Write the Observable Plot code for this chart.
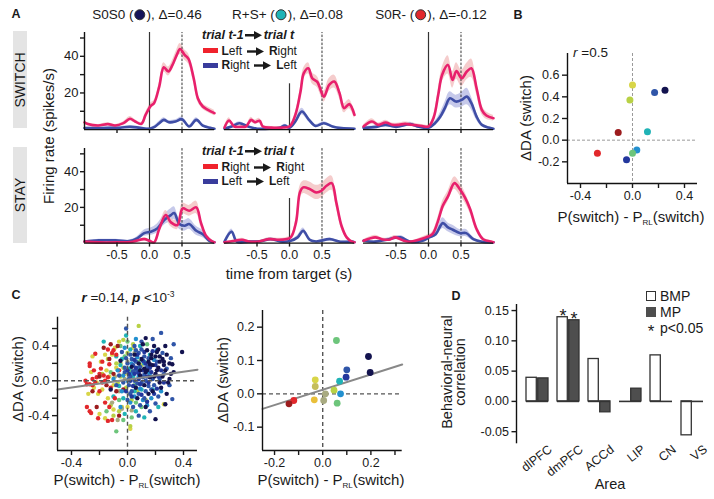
<!DOCTYPE html>
<html><head><meta charset="utf-8">
<script src="https://cdn.jsdelivr.net/npm/d3@7"></script>
<script src="https://cdn.jsdelivr.net/npm/@observablehq/plot@0.6"></script>
<style>
body{margin:0;background:#fff;}
#root{position:relative;width:714px;height:499px;overflow:hidden;background:#fff;font-family:"Liberation Sans",Arial,Helvetica,sans-serif;color:#1a1a1a;}
.lb{position:absolute;white-space:nowrap;line-height:1;}
.cd{display:inline-block;width:11px;height:11px;border-radius:50%;border:1px solid #333;box-sizing:border-box;vertical-align:-1px;margin:0 1px;}
sub.rl{font-size:8px;vertical-align:-3px;}
sup.e{font-size:8.5px;vertical-align:5px;}
</style></head><body><div id="root"></div>
<script>
// ---------------- DATA ----------------
// Panel A: firing-rate curves, [time (s), rate (spikes/s), sem]
const sw1Pink = [[-1.0,3.9,0.8],[-0.95,3,0.7],[-0.79,2.2,0.6],[-0.64,3,0.7],[-0.53,2.2,0.6],[-0.40,3.5,0.8],[-0.30,5.9,1.2],[-0.22,4.4,1],[-0.125,3.1,0.8],[-0.06,8,1.2],[0.02,13,1.5],[0.07,14.4,1.5],[0.15,23.5,2],[0.22,34,2.5],[0.29,31.7,2.5],[0.35,35,2.5],[0.42,40.8,2.8],[0.47,44,3],[0.54,40.8,2.8],[0.60,38.6,2.8],[0.68,28,2.5],[0.745,17,2],[0.82,12.6,1.5],[0.90,10.8,1.5],[1.0,9,1.5]];
const sw1Blue = [[-1.0,0.8,0.5],[-0.8,0.8,0.5],[-0.6,1,0.6],[-0.45,1,0.6],[-0.3,1.5,0.7],[-0.15,1,0.6],[0,0.5,0.5],[0.08,1.5,0.7],[0.15,3.5,1],[0.22,5.3,1.2],[0.3,4,1],[0.4,4.4,1],[0.5,5.7,1.2],[0.61,1.7,0.8],[0.72,5.3,1.2],[0.82,2.2,0.8],[0.93,1,0.5],[1.0,0.5,0.4]];
const sw2Pink = [[-1.0,1.1,0.8],[-0.93,5,1.5],[-0.85,1.7,0.8],[-0.745,1.5,0.8],[-0.67,1.7,0.8],[-0.59,5.3,1.5],[-0.53,4,1.2],[-0.46,4.8,1.3],[-0.41,1.7,0.8],[-0.28,1.1,0.6],[-0.12,1.1,0.6],[0,1.7,0.8],[0.09,8,1.5],[0.17,20.8,2.5],[0.22,30.8,3],[0.29,33.5,3],[0.35,28,3],[0.43,25.9,3],[0.46,23.5,3],[0.53,18,3],[0.61,24.4,3.5],[0.69,26.2,3.5],[0.77,19.9,3],[0.84,11.7,2.5],[0.92,13.9,2.5],[1.0,8,2]];
const sw2Blue = [[-1.0,0.5,0.4],[-0.9,1.5,0.6],[-0.77,3.5,0.8],[-0.64,1.7,0.6],[-0.5,0.5,0.4],[-0.3,0.5,0.4],[-0.15,1,0.5],[-0.07,2.2,0.7],[0,1,0.5],[0.09,4.4,1],[0.19,9.9,1.8],[0.3,5.3,1.2],[0.4,2,0.8],[0.53,3.5,0.8],[0.66,1.7,0.6],[0.8,0.8,0.4],[1.0,0.5,0.4]];
const sw3Pink = [[-1.0,1.7,0.8],[-0.87,4.4,1.5],[-0.77,2.6,1],[-0.66,3.9,1.2],[-0.56,2.6,1],[-0.46,2.6,1],[-0.36,3.1,1],[-0.26,2.6,1],[-0.10,2,0.8],[0,1.7,0.8],[0.08,6.6,1.5],[0.15,19,3],[0.21,29.9,4],[0.30,35.3,5],[0.37,27.1,4.5],[0.43,32,4.5],[0.51,28,4.5],[0.59,31.7,4.5],[0.66,33.5,5],[0.74,22.6,3.5],[0.82,10.8,2.5],[0.89,7.7,2],[1.0,6.2,1.5]];
const sw3Blue = [[-1.0,1,0.6],[-0.8,1.5,0.7],[-0.66,2.6,1],[-0.5,1.5,0.8],[-0.28,3,1],[-0.15,1.5,0.7],[0,1,0.6],[0.1,3.5,1],[0.18,7,2],[0.255,12,3],[0.33,17.1,3.5],[0.42,15.3,3.5],[0.51,16.2,4],[0.59,18,4.5],[0.66,14.4,3.5],[0.74,7.1,2],[0.82,2.6,1],[0.92,1.1,0.6],[1.0,0.5,0.4]];
const st1Pink = [[-1.0,0.8,0.5],[-0.78,0.4,0.3],[-0.52,0.4,0.3],[-0.26,0.8,0.5],[-0.08,2.2,0.8],[0,1.3,0.6],[0.07,0.4,0.4],[0.15,7.9,1.5],[0.25,15.7,2.5],[0.33,11.6,2.5],[0.43,10.1,2.5],[0.51,19.4,3],[0.61,18.1,3],[0.72,20,3.5],[0.79,11.6,2.5],[0.87,4.1,1],[0.97,0.8,0.5],[1.0,0.5,0.4]];
const st1Blue = [[-1.0,0.8,0.4],[-0.78,1.5,0.6],[-0.52,1.5,0.6],[-0.31,1.1,0.6],[-0.19,2.6,1],[-0.08,5.6,1.8],[0.02,6.4,2],[0.12,8.2,2.5],[0.23,13.1,3],[0.33,15.7,3.5],[0.38,16.8,3.5],[0.46,10.7,3],[0.54,9.7,3],[0.61,10.7,3],[0.72,6.9,2.5],[0.82,5,2],[0.92,1.3,0.8],[1.0,0.4,0.3]];
const st2Pink = [[-1.0,0.4,0.4],[-0.84,1.3,0.6],[-0.73,1.9,0.8],[-0.63,0.9,0.5],[-0.47,0.9,0.5],[-0.32,2.2,0.8],[-0.16,1.9,0.8],[-0.06,2.2,0.8],[0.02,3.2,1],[0.1,11.6,2],[0.16,28.4,3.5],[0.21,31.2,3.5],[0.31,30.3,4],[0.41,28.4,4],[0.49,29.3,4],[0.57,32.1,4],[0.65,33.6,4],[0.72,22.8,3],[0.80,9.7,2],[0.88,3.2,1],[0.96,0.8,0.5],[1.0,0.5,0.4]];
const st2Blue = [[-1.0,0.8,0.5],[-0.89,6.4,1.5],[-0.81,0.8,0.5],[-0.63,0.8,0.4],[-0.45,1,0.5],[-0.29,2.2,0.8],[-0.11,0.8,0.4],[0.02,1.3,0.5],[0.125,3.2,1],[0.21,6.9,1.5],[0.31,1.9,0.8],[0.41,0.9,0.5],[0.62,2.2,0.7],[0.78,0.8,0.4],[0.96,0.8,0.4],[1.0,0.5,0.4]];
const st3Pink = [[-1.0,1.3,0.6],[-0.82,3.2,1.2],[-0.72,2.2,0.8],[-0.61,1.9,0.8],[-0.51,3.2,1],[-0.38,1.3,0.6],[-0.28,0.8,0.5],[-0.15,1.9,0.7],[-0.04,3.2,1],[0.06,5,1.2],[0.14,11.6,2],[0.22,20.9,3],[0.30,26.2,3],[0.40,33.6,3.5],[0.48,30.3,3.5],[0.56,25.6,3],[0.64,19.1,2.5],[0.74,7.9,1.5],[0.84,2.2,0.8],[0.97,0.8,0.5],[1.0,0.5,0.4]];
const st3Blue = [[-1.0,1.3,0.6],[-0.82,0.8,0.5],[-0.61,2.2,0.8],[-0.43,3.2,1],[-0.28,0.8,0.5],[-0.09,1.3,0.6],[0.01,3.2,1],[0.11,5,1.5],[0.22,11.2,3],[0.30,8.8,2.5],[0.375,7.5,2.5],[0.48,5.6,2],[0.58,5.6,2],[0.69,2.2,1],[0.82,0.8,0.5],[0.97,0.4,0.3],[1.0,0.4,0.3]];
const timeTicks = [-0.5, 0, 0.5];
const rateTicks = [10, 20, 30, 40, 50];
const rateLabels = [20, 40];

// colour categories
const catNames = ["darkred","red","orange","yellow","khaki","yellowgreen","olive","green","cyan","lightblue","blue","darkblue","navy"];
const catColors = ["#9c1c1e","#e2282c","#e9bf3a","#d8d548","#c4bd5c","#b8d145","#a8aa80","#6dc57b","#20b3b6","#2390cf","#2f55a8","#23379d","#13134f"];

// Panel B
const bX = [0.00,-0.02,0.17,0.25,-0.11,0.115,-0.27,0.033,0.00,-0.046];
const bY = [0.51,0.37,0.44,0.46,0.07,0.077,-0.12,-0.09,-0.12,-0.18];
const bCat = ["yellow","yellowgreen","blue","navy","darkred","cyan","red","lightblue","green","darkblue"];

// Panel C left: neurons [x, y] by colour
const clYellow = [[0.04,0.38],[-0.25,0.28],[-0.19,0.22],[-0.16,0.30],[-0.13,0.05],[-0.22,-0.02],[-0.21,-0.15],[-0.18,-0.10],[-0.24,-0.08],[-0.16,-0.43],[-0.10,-0.33],[-0.04,-0.30],[-0.09,0.38],[-0.08,0.15],[-0.14,-0.20],[0.02,-0.55],[0.26,-0.27],[-0.20,-0.38],[-0.11,0.30],[-0.28,-0.15],[-0.06,0.45],[-0.15,0.12],[0.00,-0.30],[-0.26,0.10],[-0.05,0.20],[-0.02,0.08],[-0.10,-0.05]];
const clYellowGreen = [[0.08,0.63],[-0.03,0.47],[0.04,0.42],[-0.08,0.20],[-0.01,-0.08],[-0.12,-0.28],[0.02,-0.52],[-0.05,0.05],[0.07,-0.12],[-0.14,0.25],[0.10,0.18],[-0.10,-0.40],[0.00,0.32],[-0.06,-0.35],[0.13,-0.22],[-0.18,0.08],[-0.03,0.15],[0.03,-0.22],[-0.07,-0.02]];
const clOlive = [[-0.07,-0.45],[-0.04,-0.32],[0.01,-0.15],[-0.09,0.05],[0.00,0.22],[-0.06,-0.12],[0.03,-0.34],[-0.11,-0.25],[0.05,0.32],[-0.02,0.02]];
const clGreen = [[-0.08,-0.58],[0.03,-0.42],[-0.05,0.40],[0.00,0.45],[-0.12,0.10],[0.06,-0.25],[0.02,0.12],[-0.06,-0.22],[-0.02,0.28],[0.10,-0.30],[0.05,-0.05],[-0.15,-0.35],[0.14,0.42],[-0.03,-0.45],[0.08,0.22]];
const clCyan = [[-0.17,0.45],[-0.01,0.52],[0.02,0.36],[-0.05,0.18],[0.08,0.15],[-0.10,-0.18],[0.06,-0.35],[0.10,-0.10],[-0.03,-0.20],[0.04,0.05],[0.16,0.30],[-0.08,0.28],[0.12,-0.42],[0.22,-0.30],[-0.02,-0.38],[0.09,0.40],[0.18,-0.10],[-0.06,-0.06],[0.01,0.14],[-0.04,0.25],[0.05,-0.12],[0.12,0.22]];
const clRed = [[-0.23,0.31],[-0.27,0.20],[-0.27,0.17],[-0.18,0.22],[-0.13,0.19],[-0.10,0.35],[-0.08,0.30],[-0.11,0.32],[-0.14,0.36],[-0.29,-0.04],[-0.27,-0.04],[-0.25,-0.05],[-0.23,-0.02],[-0.18,-0.02],[-0.16,0.00],[-0.14,0.04],[-0.20,0.08],[-0.22,0.04],[-0.29,-0.30],[-0.27,-0.35],[-0.26,-0.37],[-0.21,-0.43],[-0.14,-0.46],[-0.11,-0.45],[-0.13,-0.30],[-0.09,-0.20],[-0.12,-0.08],[-0.06,0.12],[-0.19,0.14],[-0.24,0.12],[-0.30,0.00],[-0.16,-0.25],[-0.20,-0.12],[-0.25,0.02],[-0.17,0.06]];
const clDarkRed = [[-0.17,0.38],[-0.12,0.42],[-0.20,0.05],[-0.15,-0.05],[-0.10,0.08],[-0.08,-0.12],[-0.25,-0.12],[-0.13,0.25],[-0.06,-0.40],[-0.22,-0.30],[-0.07,0.40],[-0.03,-0.10]];
const clLightBlue = [[0.06,0.48],[-0.02,0.38],[0.12,0.20],[0.03,0.08],[0.09,-0.09],[-0.04,-0.12],[0.15,0.10],[0.00,0.00],[-0.07,0.12],[0.07,0.27],[0.17,-0.20],[0.02,-0.25],[-0.05,-0.30],[0.21,0.35],[0.14,-0.28],[0.24,-0.12],[0.05,-0.18],[-0.10,0.02],[0.19,0.24],[0.03,0.20],[0.08,0.05],[-0.03,0.06],[0.11,-0.22],[0.16,0.06]];
const clBlue = [[-0.01,0.60],[0.18,0.48],[0.24,0.55],[0.33,0.42],[0.10,0.45],[0.05,0.40],[0.02,0.30],[0.08,0.32],[0.12,0.28],[0.00,0.20],[0.04,0.18],[0.07,0.10],[0.02,0.05],[-0.02,0.10],[0.05,0.00],[0.10,-0.02],[0.15,-0.06],[0.01,-0.05],[0.03,-0.12],[0.08,-0.15],[0.12,-0.20],[-0.03,-0.02],[0.06,0.22],[0.14,0.16],[0.18,0.02],[0.22,-0.18],[0.30,-0.05],[0.32,-0.21],[0.20,-0.26],[0.08,-0.40],[0.26,0.08],[0.31,0.26],[0.09,-0.28],[0.00,-0.22],[-0.04,0.33],[-0.06,0.06],[0.16,-0.35],[0.04,-0.30],[0.25,0.32],[0.11,0.04],[0.13,-0.12],[-0.02,0.15],[0.03,0.25],[0.19,-0.05],[0.06,0.13],[0.23,0.02],[-0.08,-0.05],[0.10,0.36],[0.28,0.14],[0.01,0.02],[0.04,0.11],[0.07,-0.03],[0.12,0.07],[0.15,0.26],[0.09,0.16],[0.02,-0.15],[0.17,-0.10],[0.06,0.35],[0.21,0.22],[-0.01,0.26],[0.13,0.00]];
const clDarkBlue = [[0.02,0.00],[0.05,0.08],[0.08,0.02],[0.11,0.12],[0.14,0.05],[0.17,0.10],[0.04,-0.06],[0.09,-0.04],[0.13,0.20],[0.16,0.15],[0.06,0.15],[0.01,0.08],[0.10,-0.16],[0.07,0.30],[0.20,0.18],[0.24,0.12],[0.19,-0.15],[0.03,-0.18],[0.12,0.33],[0.15,-0.02],[-0.01,-0.12],[0.18,0.34],[0.22,0.05],[0.08,0.09],[0.05,0.24],[0.26,-0.02],[0.14,-0.24],[0.00,0.12],[0.11,0.23],[0.21,-0.09]];
const clNavy = [[0.13,0.49],[0.27,0.40],[0.39,0.33],[0.22,0.36],[0.17,0.30],[0.20,0.28],[0.25,0.25],[0.30,0.20],[0.32,0.19],[0.15,0.22],[0.18,0.18],[0.22,0.15],[0.27,0.12],[0.12,0.14],[0.10,0.25],[0.20,0.08],[0.25,0.05],[0.30,0.02],[0.29,-0.02],[0.16,0.04],[0.13,0.10],[0.08,0.20],[0.23,0.22],[0.28,0.30],[0.19,0.40],[0.14,0.35],[0.05,0.30],[0.24,-0.08],[0.18,-0.12],[0.12,-0.05],[0.27,-0.27],[0.20,-0.44],[0.13,-0.30],[0.07,-0.20],[0.21,0.12],[0.26,0.18],[0.09,0.06],[0.17,0.26],[0.33,0.10],[0.11,0.42],[0.03,0.16],[0.28,-0.15],[0.06,-0.08],[-0.05,0.23],[-0.12,-0.10],[0.14,0.12],[0.19,0.05],[0.23,0.28],[0.16,0.19],[0.21,0.33],[0.09,0.12],[0.26,0.22],[0.31,0.08],[0.15,-0.15],[0.23,-0.02]];
const regLeftX = [-0.5, 0.5];
const regLeftY = [-0.10, 0.127];

// Panel C right
const crX = [0.057,0.19,0.197,0.10,0.097,0.07,0.074,0.047,0.06,-0.031,-0.031,-0.035,0.011,0.004,-0.12,-0.14];
const crY = [0.16,0.112,0.064,0.072,0.05,0.038,0.0,0.011,-0.028,0.042,0.022,-0.018,0.0,-0.02,-0.02,-0.03];
const crCat = ["green","navy","navy","blue","darkblue","cyan","lightblue","yellowgreen","green","yellow","khaki","orange","olive","olive","red","darkred"];
const regRightX = [-0.25, 0.33];
const regRightY = [-0.045, 0.088];

// Panel D
const dAreas = ["dlPFC","dmPFC","ACCd","LIP","CN","VS"];
const dBMP = [0.039, 0.139, 0.070, 0.000, 0.076, -0.056];
const dMP = [0.038, 0.134, -0.018, 0.021, 0.000, 0.000];
const dSigBMP = ["dmPFC"];
const dSigMP = ["dmPFC"];

// ---------------- HELPERS ----------------
const FONT = '"Liberation Sans", Arial, Helvetica, sans-serif';
const root = document.getElementById("root");
const baseStyle = {fontFamily: FONT, fontSize: "12.5px", color: "#1a1a1a", background: "transparent", overflow: "visible"};
const near = (list, d) => list.some(v => Math.abs(v - d) < 1e-9);
const fmt1 = d => (Math.abs(d) < 1e-9 ? 0 : d).toFixed(1);
const only = (list, f) => d => near(list, d) ? f(d) : "";
function add(el, left, top) { el.style.position = "absolute"; el.style.left = left + "px"; el.style.top = top + "px"; root.appendChild(el); }
function label(html, cx, cy, o = {}) {
  const d = document.createElement("div");
  d.className = "lb"; d.innerHTML = html;
  d.style.fontSize = (o.size || 13) + "px";
  if (o.weight) d.style.fontWeight = o.weight;
  if (o.style) d.style.fontStyle = o.style;
  if (o.lh) d.style.lineHeight = o.lh + "px";
  if (o.align) d.style.textAlign = o.align;
  d.style.left = cx + "px"; d.style.top = cy + "px";
  const ax = o.anchor === "start" ? "0%" : o.anchor === "end" ? "-100%" : "-50%";
  d.style.transform = `translate(${ax},-50%)` + (o.rotate ? ` rotate(${o.rotate}deg)` : "");
  root.appendChild(d);
  return d;
}
function box(left, top, w, h, bg, border) {
  const d = document.createElement("div");
  Object.assign(d.style, {position: "absolute", left: left + "px", top: top + "px", width: w + "px", height: h + "px", background: bg, boxSizing: "border-box"});
  if (border) d.style.border = border;
  root.appendChild(d);
  return d;
}
const axisStroke = {stroke: "#111", strokeWidth: 1.4};

// ---------------- PANEL A ----------------
function panelA(pink, blue, o) {
  const mk = a => a.map(([t, y, se]) => ({t, y, lo: Math.max(0, y - se), hi: y + se}));
  const P = mk(pink), B = mk(blue);
  const ml = 40, mr = 6, mt = 8, mb = 22;
  const marks = [
    Plot.areaY(B, {x: "t", y1: "lo", y2: "hi", fill: "#bcc0e6", fillOpacity: 0.85, curve: "catmull-rom"}),
    Plot.areaY(P, {x: "t", y1: "lo", y2: "hi", fill: "#f3bfbf", fillOpacity: 0.8, curve: "catmull-rom"}),
    Plot.ruleX([0], {y1: 0, y2: o.zeroTop, stroke: "#333", strokeWidth: 1.2}),
    Plot.ruleX([0.5], {y1: 0, y2: 53, stroke: "#333", strokeWidth: 1, strokeDasharray: "2.5,1.5"}),
    Plot.line(B, {x: "t", y: "y", stroke: "#3f4ea6", strokeWidth: 2.6, curve: "catmull-rom"}),
    Plot.line(P, {x: "t", y: "y", stroke: "#e8206c", strokeWidth: 2.6, curve: "catmull-rom"}),
    Plot.ruleY([0], axisStroke),
    Plot.axisX({ticks: timeTicks, tickSize: 4, tickPadding: 3, strokeWidth: 1.4, label: null,
      tickFormat: o.xLabels ? fmt1 : () => ""})
  ];
  if (o.first) {
    marks.push(Plot.ruleX([-1], axisStroke));
    marks.push(Plot.axisY({ticks: rateTicks, tickSize: 4, tickPadding: 2, strokeWidth: 1.4, label: null, fontSize: 13,
      tickFormat: only(rateLabels, d => String(d))}));
  }
  const p = Plot.plot({
    width: 130 + ml + mr, height: o.h + mt + mb,
    marginLeft: ml, marginRight: mr, marginTop: mt, marginBottom: mb,
    x: {domain: [-1, 1]}, y: {domain: [0, 53], axis: o.first ? undefined : null},
    style: baseStyle, marks
  });
  add(p, o.left - ml, o.top - mt);
}
const colLeft = [84, 224, 363];
const swTop = 32.3, swH = 97.1, stTop = 148.1, stH = 94.6;
panelA(sw1Pink, sw1Blue, {left: colLeft[0], top: swTop, h: swH, first: true, xLabels: false, zeroTop: 53});
panelA(sw2Pink, sw2Blue, {left: colLeft[1], top: swTop, h: swH, first: false, xLabels: false, zeroTop: 25});
panelA(sw3Pink, sw3Blue, {left: colLeft[2], top: swTop, h: swH, first: false, xLabels: false, zeroTop: 53});
panelA(st1Pink, st1Blue, {left: colLeft[0], top: stTop, h: stH, first: true, xLabels: true, zeroTop: 53});
panelA(st2Pink, st2Blue, {left: colLeft[1], top: stTop, h: stH, first: false, xLabels: true, zeroTop: 25});
panelA(st3Pink, st3Blue, {left: colLeft[2], top: stTop, h: stH, first: false, xLabels: true, zeroTop: 53});

label("A", 16, 14, {size: 12.5, weight: "bold"});
label('S0S0 (<span class="cd" style="background:#14145a"></span>), Δ=0.46', 147, 15, {size: 13.5});
label('R+S+ (<span class="cd" style="background:#20b3b6"></span>), Δ=0.08', 287.5, 15, {size: 13.5});
label('S0R- (<span class="cd" style="background:#e2282c"></span>), Δ=-0.12', 431, 15, {size: 13.5});
box(12.5, 31, 14.5, 97, "#e4e4e4");
box(12.5, 147, 14.5, 96, "#e4e4e4");
label("SWITCH", 20, 79.5, {size: 14, rotate: -90});
label("STAY", 20, 195, {size: 14, rotate: -90});
label("Firing rate (spikes/s)", 48, 136, {size: 15, rotate: -90});
label("time from target (s)", 289, 273, {size: 15});

const arrow = '<svg width="17" height="9" viewBox="0 0 17 9" style="vertical-align:middle;margin:0 2px 0 1px"><path d="M0 4.5H10" stroke="#1a1a1a" stroke-width="2.4"/><path d="M9 0.3L17 4.5L9 8.7Z" fill="#1a1a1a"/></svg>';
function legendA(top, rows) {
  label('<b><i>trial t-1</i></b>' + arrow + '<b><i>trial t</i></b>', 202, top, {size: 12.5, anchor: "start"});
  rows.forEach((r, i) => {
    const y = top + 16 + i * 14.5;
    box(203, y - 2.5, 15, 5, r.color);
    label(r.html, 221.5, y, {size: 12, anchor: "start"});
  });
}
legendA(34.5, [
  {color: "#f0222c", html: "<b>L</b>eft " + arrow + " <b>R</b>ight"},
  {color: "#393c9c", html: "<b>R</b>ight " + arrow + " <b>L</b>eft"}
]);
legendA(150.5, [
  {color: "#f0222c", html: "<b>R</b>ight " + arrow + " <b>R</b>ight"},
  {color: "#393c9c", html: "<b>L</b>eft " + arrow + " <b>L</b>eft"}
]);

// ---------------- PANEL B ----------------
{
  const data = bX.map((x, i) => ({x, y: bY[i], c: bCat[i]}));
  const p = Plot.plot({
    width: 214, height: 200, marginLeft: 67, marginRight: 17, marginTop: 23, marginBottom: 47,
    x: {domain: [-0.5, 0.5]}, y: {domain: [-0.4, 0.8]},
    color: {domain: catNames, range: catColors},
    style: baseStyle,
    marks: [
      Plot.ruleX([0], {stroke: "#9a9a9a", strokeWidth: 1, strokeDasharray: "3,2"}),
      Plot.ruleY([0], {stroke: "#9a9a9a", strokeWidth: 1, strokeDasharray: "3,2"}),
      Plot.ruleX([-0.5], axisStroke),
      Plot.ruleY([-0.4], axisStroke),
      Plot.dot(data, {x: "x", y: "y", r: 3.5, fill: "c"}),
      Plot.axisX({ticks: [-0.4, -0.2, 0, 0.2, 0.4], tickSize: 5, tickPadding: 3, strokeWidth: 1.4, label: null, tickFormat: only([-0.4, 0, 0.4], fmt1)}),
      Plot.axisY({ticks: [-0.2, 0, 0.2, 0.4, 0.6], tickSize: 5, tickPadding: 3, strokeWidth: 1.4, label: null, tickFormat: fmt1})
    ]
  });
  add(p, 500, 30);
  label("B", 518, 15, {size: 12.5, weight: "bold"});
  label('<i>r</i> =0.5', 573, 53, {size: 13.5, anchor: "start"});
  label('ΔDA (switch)', 525, 118, {size: 15, rotate: -90});
  label('P(switch) - P<sub class="rl">RL</sub>(switch)', 631, 218, {size: 15});
}

// ---------------- PANEL C ----------------
{
  const groups = [["yellow", clYellow], ["yellowgreen", clYellowGreen], ["olive", clOlive], ["green", clGreen], ["cyan", clCyan],
    ["red", clRed], ["darkred", clDarkRed], ["lightblue", clLightBlue], ["blue", clBlue], ["darkblue", clDarkBlue], ["navy", clNavy]];
  const data = groups.flatMap(([c, pts]) => pts.map(([x, y]) => ({x, y, c})));
  const reg = regLeftX.map((x, i) => ({x, y: regLeftY[i]}));
  const p = Plot.plot({
    width: 214, height: 209, marginLeft: 57, marginRight: 17, marginTop: 26.7, marginBottom: 49,
    x: {domain: [-0.5, 0.5]}, y: {domain: [-0.8, 0.73]},
    color: {domain: catNames, range: catColors},
    style: baseStyle,
    marks: [
      Plot.dot(data, {x: "x", y: "y", r: 2.2, fill: "c"}),
      Plot.ruleX([0], {stroke: "#555", strokeWidth: 1.4, strokeDasharray: "4,3"}),
      Plot.ruleY([0], {stroke: "#555", strokeWidth: 1.4, strokeDasharray: "4,3"}),
      Plot.line(reg, {x: "x", y: "y", stroke: "#888", strokeWidth: 2}),
      Plot.ruleX([-0.5], axisStroke),
      Plot.ruleY([-0.8], axisStroke),
      Plot.axisX({ticks: [-0.4, -0.2, 0, 0.2, 0.4], tickSize: 5, tickPadding: 3, strokeWidth: 1.4, label: null, tickFormat: only([-0.4, 0, 0.4], fmt1)}),
      Plot.axisY({ticks: [-0.6, -0.4, -0.2, 0, 0.2, 0.4, 0.6], tickSize: 5, tickPadding: 3, strokeWidth: 1.4, label: null, tickFormat: only([-0.4, 0, 0.4], fmt1)})
    ]
  });
  add(p, 0, 290);
  label("C", 16, 295, {size: 12.5, weight: "bold"});
  label('<b><i>r</i></b> =0.14, <b><i>p</i></b> &lt;10<sup class="e">-3</sup>', 128, 297, {size: 13.5});
  label('ΔDA (switch)', 17, 379, {size: 15, rotate: -90});
  label('P(switch) - P<sub class="rl">RL</sub>(switch)', 127, 481, {size: 15});

  const dataR = crX.map((x, i) => ({x, y: crY[i], c: crCat[i]}));
  const regR = regRightX.map((x, i) => ({x, y: regRightY[i]}));
  const p2 = Plot.plot({
    width: 200, height: 209, marginLeft: 47, marginRight: 13.3, marginTop: 20, marginBottom: 49,
    x: {domain: [-0.25, 0.33]}, y: {domain: [-0.17, 0.25]},
    color: {domain: catNames, range: catColors},
    style: baseStyle,
    marks: [
      Plot.ruleX([0], {stroke: "#555", strokeWidth: 1.4, strokeDasharray: "4,3"}),
      Plot.ruleY([0], {stroke: "#555", strokeWidth: 1.4, strokeDasharray: "4,3"}),
      Plot.line(regR, {x: "x", y: "y", stroke: "#888", strokeWidth: 2}),
      Plot.dot(dataR, {x: "x", y: "y", r: 3.4, fill: "c"}),
      Plot.ruleX([-0.25], axisStroke),
      Plot.ruleY([-0.17], axisStroke),
      Plot.axisX({ticks: [-0.2, -0.1, 0, 0.1, 0.2, 0.3], tickSize: 5, tickPadding: 3, strokeWidth: 1.4, label: null, tickFormat: only([-0.2, 0, 0.2], fmt1)}),
      Plot.axisY({ticks: [-0.1, 0, 0.1, 0.2], tickSize: 5, tickPadding: 3, strokeWidth: 1.4, label: null, tickFormat: fmt1})
    ]
  });
  add(p2, 215, 290);
  label('ΔDA (switch)', 222, 380, {size: 15, rotate: -90});
  label('P(switch) - P<sub class="rl">RL</sub>(switch)', 331, 481, {size: 15});
}

// ---------------- PANEL D ----------------
{
  const bmp = dAreas.map((a, i) => ({area: a, v: dBMP[i]}));
  const mp = dAreas.map((a, i) => ({area: a, v: dMP[i]}));
  const sigB = bmp.filter(d => dSigBMP.includes(d.area));
  const sigM = mp.filter(d => dSigMP.includes(d.area));
  const ins = 11.7;
  const yAxisLine = (index, scales, values, dim) => {
    const l = document.createElementNS("http://www.w3.org/2000/svg", "line");
    l.setAttribute("x1", dim.marginLeft); l.setAttribute("x2", dim.marginLeft);
    l.setAttribute("y1", dim.marginTop); l.setAttribute("y2", dim.height - dim.marginBottom);
    l.setAttribute("stroke", "#111"); l.setAttribute("stroke-width", 1.4);
    return l;
  };
  const p = Plot.plot({
    width: 294, height: 219, marginLeft: 96.5, marginRight: 1.6, marginTop: 24, marginBottom: 55.7,
    x: {domain: dAreas, padding: 0.28},
    y: {domain: [-0.07, 0.16]},
    style: baseStyle,
    marks: [
      Plot.barY(bmp, {x: "area", y: "v", fill: "white", stroke: "#333", strokeWidth: 1.3, insetRight: ins}),
      Plot.barY(mp, {x: "area", y: "v", fill: "#4e4e4e", stroke: "#333", strokeWidth: 1.3, insetLeft: ins}),
      Plot.tickY(dAreas, {x: d => d, y: () => 0, stroke: "#333", strokeWidth: 1.6}),
      Plot.text(sigB, {x: "area", y: "v", text: () => "*", dx: -5.6, dy: -1, lineAnchor: "middle", fontSize: 18}),
      Plot.text(sigM, {x: "area", y: "v", text: () => "*", dx: 5.6, dy: -1, lineAnchor: "middle", fontSize: 18}),
      yAxisLine,
      Plot.axisY({ticks: [-0.05, 0, 0.05, 0.10, 0.15], tickSize: 5, tickPadding: 3, strokeWidth: 1.4, label: null, fontSize: 12.5, tickFormat: d => (Math.abs(d) < 1e-9 ? 0 : d).toFixed(2)}),
      Plot.axisX({tickSize: 0, tickPadding: 4, tickRotate: -38, dx: 13, label: null, fontSize: 12.5})
    ]
  });
  add(p, 420, 280);
  label("D", 456, 296, {size: 12.5, weight: "bold"});
  label("Behavioral-neural<br>correlation", 454, 372, {size: 14.5, rotate: -90, lh: 13, align: "center"});
  label("Area", 610, 484, {size: 14.5});
  box(646, 291, 10, 10, "#fff", "1.3px solid #333");
  box(646, 306.5, 10, 10, "#4e4e4e");
  label("BMP", 660, 296, {size: 14, anchor: "start"});
  label("MP", 660, 311.5, {size: 14, anchor: "start"});
  label("*", 651, 331, {size: 17});
  label("p&lt;0.05", 660, 327.5, {size: 14, anchor: "start"});
}
</script></body></html>
